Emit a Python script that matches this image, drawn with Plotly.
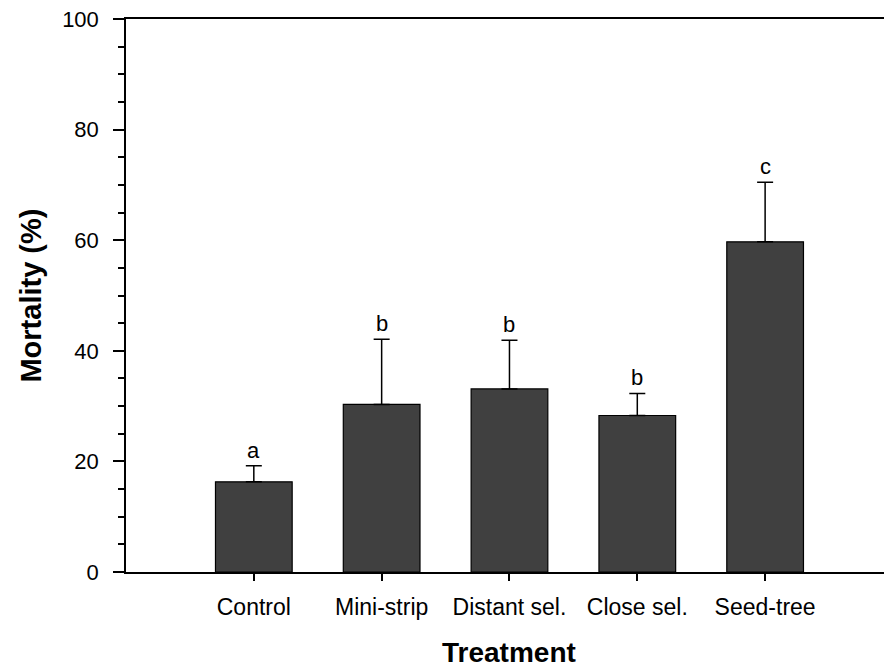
import plotly.graph_objects as go

treatments = ["Control", "Mini-strip", "Distant sel.", "Close sel.", "Seed-tree"]
mortality = [16.3, 30.3, 33.1, 28.3, 59.7]
se_upper = [2.9, 11.8, 8.8, 4.0, 10.8]
letters = ["a", "b", "b", "b", "c"]

FONT = "Liberation Sans, Arial, sans-serif"
xpos = list(range(len(treatments)))

fig = go.Figure()
fig.add_trace(go.Bar(
    x=xpos, y=mortality, width=0.6,
    marker=dict(color="#404040", line=dict(color="black", width=1.2)),
    error_y=dict(type="data", symmetric=False, array=se_upper,
                 arrayminus=[0] * len(mortality),
                 color="black", thickness=1.5, width=8),
    showlegend=False,
))

for xi, m, e, lab in zip(xpos, mortality, se_upper, letters):
    fig.add_annotation(x=xi, y=m + e, text=lab, showarrow=False,
                       xref="x", yref="y", yanchor="bottom", yshift=1,
                       font=dict(family=FONT, size=22, color="black"))

fig.add_annotation(x=2, y=-0.146, xref="x", yref="paper", text="<b>Treatment</b>",
                   showarrow=False, xanchor="center", yanchor="middle",
                   font=dict(family=FONT, size=28, color="black"))
fig.add_annotation(x=-0.1266, y=0.5, xref="paper", yref="paper", text="<b>Mortality (%)</b>",
                   showarrow=False, textangle=-90, xanchor="center", yanchor="middle",
                   font=dict(family=FONT, size=29, color="black"))

fig.update_layout(
    width=884, height=669,
    margin=dict(l=126, r=0, t=19, b=97),
    paper_bgcolor="white", plot_bgcolor="white",
    font=dict(family=FONT, size=22, color="black"),
    bargap=0.4,
)
fig.update_xaxes(
    range=[-1, 4.93], tickmode="array", tickvals=xpos, ticktext=treatments,
    showline=True, linecolor="black", linewidth=1.5, mirror=True,
    ticks="outside", ticklen=7, tickwidth=1.5, tickcolor="black",
    showgrid=False, zeroline=False, ticklabelstandoff=7,
    tickfont=dict(family=FONT, size=23, color="black"),
)
fig.update_yaxes(
    range=[0, 100], tickmode="linear", tick0=0, dtick=20,
    showline=True, linecolor="black", linewidth=1.5,
    ticks="outside", ticklen=11, tickwidth=1.5, tickcolor="black",
    minor=dict(ticks="outside", ticklen=6, tickwidth=1.5, tickcolor="black", dtick=5, showgrid=False),
    showgrid=False, zeroline=False, ticklabelstandoff=10,
    tickfont=dict(family=FONT, size=22, color="black"),
)

fig.write_html("out.html")
